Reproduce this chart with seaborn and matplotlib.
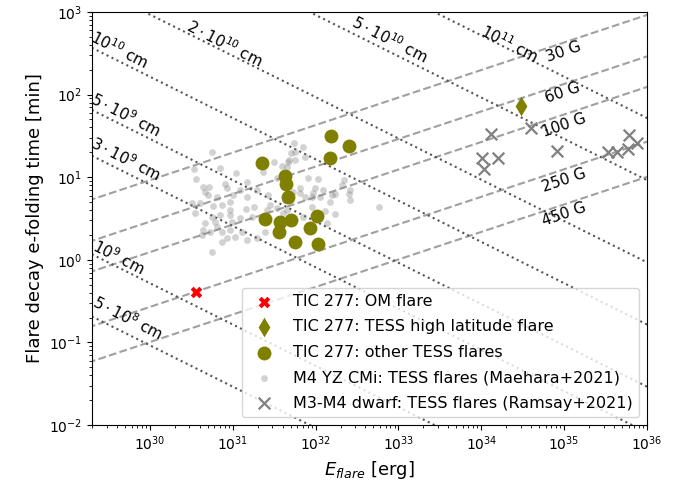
import numpy as np
import pandas as pd
import matplotlib
matplotlib.use("Agg")
import matplotlib.pyplot as plt
import seaborn as sns

# ---------------- data ----------------
# TIC 277: OM flare
om_E = [3.6e30]
om_tau = [0.41]
# TIC 277: TESS high latitude flare
hl_E = [3.0e34]
hl_tau = [72.8]
# TIC 277: other TESS flares
tess_E = [2.23e31, 1.53e32, 2.53e32, 1.48e32, 4.31e31, 4.36e31, 4.65e31, 2.45e31,
          3.72e31, 3.61e31, 5.05e31, 1.05e32, 8.55e31, 5.64e31, 1.08e32]
tess_tau = [14.7, 31.8, 24.0, 17.2, 10.3, 8.2, 5.7, 3.12,
            2.84, 2.19, 3.03, 3.42, 2.41, 1.66, 1.55]
# M4 YZ CMi (Maehara+2021)
mae_E = [5.66e30, 3.40e30, 7.02e30, 1.08e31, 3.60e30, 3.17e31, 3.90e31, 4.68e31, 2.34e31,
         1.47e31, 8.05e30, 4.41e30, 5.21e30, 4.62e30, 5.07e30, 8.45e30, 1.22e31, 1.01e31,
         1.95e31, 2.69e31, 3.39e31, 6.40e30, 1.47e31, 5.48e31, 7.10e31, 5.64e31, 5.00e31,
         4.81e31, 5.64e31, 4.55e31, 7.45e31, 8.17e31, 1.08e32, 2.20e32, 2.07e32, 2.60e32,
         9.84e31, 1.24e32, 9.38e31, 1.56e32, 8.97e31, 1.13e32, 7.45e31, 6.49e31, 5.38e31,
         3.19e30, 4.03e30, 5.82e30, 7.35e30, 9.27e30, 9.27e30, 9.27e30, 1.45e31, 1.80e31,
         2.81e31, 3.50e30, 5.57e30, 7.02e30, 6.11e30, 4.62e30, 6.40e30, 4.41e30, 5.31e30,
         7.35e30, 4.22e30, 9.71e30, 1.22e31, 1.28e31, 1.06e31, 8.45e30, 7.35e30, 1.47e31,
         1.95e31, 5.57e30, 2.45e31, 2.61e31, 1.69e31, 3.39e31, 9.27e30, 1.49e32, 2.55e32,
         2.60e32, 1.71e32, 8.97e31, 7.10e31, 1.30e32, 1.71e32, 1.36e32, 5.87e32, 4.07e31,
         4.48e31, 4.28e31, 6.49e31]
mae_tau = [20.0, 12.5, 12.8, 11.3, 9.4, 15.4, 13.7, 15.4, 11.7,
           8.8, 8.3, 7.7, 7.7, 6.7, 6.1, 7.3, 7.0, 6.1,
           7.0, 6.1, 9.7, 5.7, 5.7, 26.2, 23.0, 20.4, 19.5,
           16.1, 16.1, 13.4, 17.4, 9.7, 9.4, 9.2, 8.0, 7.0,
           7.3, 7.0, 6.4, 6.1, 5.7, 5.7, 5.7, 7.3, 6.7,
           4.83, 4.91, 4.48, 4.60, 5.05, 4.01, 3.48, 4.12, 4.40,
           4.60, 3.66, 3.32, 3.48, 2.89, 2.77, 2.52, 2.30, 2.19,
           2.19, 2.00, 2.89, 3.18, 2.19, 1.90, 1.82, 1.66, 1.74,
           1.82, 1.25, 2.19, 4.01, 3.32, 4.20, 2.30, 5.05, 6.26,
           5.30, 6.26, 4.32, 3.32, 3.93, 3.58, 2.77, 4.40, 3.66,
           4.01, 5.30, 6.4]
# M3-M4 dwarf (Ramsay+2021)
ram_E = [1.31e34, 3.95e34, 1.01e34, 1.60e34, 1.08e34, 8.13e34, 3.38e35, 4.35e35,
         5.98e35, 6.11e35, 7.57e35]
ram_tau = [33.0, 39.7, 16.9, 17.2, 12.5, 20.8, 20.2, 20.2, 21.9, 32.4, 26.3]

# scaling-law reference lines
B_values = [30, 60, 100, 250, 450]                      # G
B_labels = ["30 G", "60 G", "100 G", "250 G", "450 G"]
L_values = [5e8, 1e9, 3e9, 5e9, 1e10, 2e10, 5e10, 1e11]  # cm
L_labels = [r"$5\cdot10^{8}$ cm", r"$10^{9}$ cm", r"$3\cdot10^{9}$ cm", r"$5\cdot10^{9}$ cm",
            r"$10^{10}$ cm", r"$2\cdot10^{10}$ cm", r"$5\cdot10^{10}$ cm", r"$10^{11}$ cm"]
# label anchor positions (E, tau)
B_lab_E = [1.0e35, 9.6e34, 1.0e35, 1.0e35, 1.0e35]
B_lab_tau = [330, 104, 42.9, 9.25, 3.56]
L_lab_E = [5.33e29, 4.24e29, 5.1e29, 5.1e29, 4.36e29, 8.05e30, 7.9e32, 2.22e34]
L_lab_tau = [0.196, 1.07, 16.5, 56.6, 347, 420, 470, 410]

logA_B = -6.574   # tau = A * E^(1/3) * B^(-5/3)
logA_L = -7.783   # tau = A * L^(5/2) * E^(-1/2)

# ---------------- plot ----------------
fig = plt.figure(figsize=(6.81, 4.84), dpi=100)
ax = fig.add_axes([0.1351, 0.1219, 0.8149, 0.8533])
ax.set_xscale("log")
ax.set_yscale("log")

E_grid = np.logspace(29, 37, 200)
for B in B_values:
    tau = 10**logA_B * E_grid**(1/3) * B**(-5/3)
    sns.lineplot(x=E_grid, y=tau, ax=ax, color="#a0a0a0", lw=1.5, linestyle="--", zorder=1)
for L in L_values:
    tau = 10**logA_L * L**2.5 * E_grid**(-0.5)
    sns.lineplot(x=E_grid, y=tau, ax=ax, color="#555555", lw=1.5, linestyle=":", zorder=1)

for lab, e, t in zip(B_labels, B_lab_E, B_lab_tau):
    ax.text(e, t, lab, rotation=19, ha="center", va="center", fontsize=11, zorder=2)
for lab, e, t in zip(L_labels, L_lab_E, L_lab_tau):
    ax.text(e, t, lab, rotation=-27, ha="center", va="center", fontsize=11, zorder=2)

sns.scatterplot(x=om_E, y=om_tau, ax=ax, marker="X", color="red", s=70,
                linewidth=0, label="TIC 277: OM flare", zorder=5)
sns.scatterplot(x=hl_E, y=hl_tau, ax=ax, marker="d", color="olive", s=100,
                linewidth=0, label="TIC 277: TESS high latitude flare", zorder=5)
sns.scatterplot(x=tess_E, y=tess_tau, ax=ax, marker="o", color="olive", s=100,
                linewidth=0, label="TIC 277: other TESS flares", zorder=4)
sns.scatterplot(x=mae_E, y=mae_tau, ax=ax, marker="o", color="gray", s=24, alpha=0.35,
                linewidth=0, label="M4 YZ CMi: TESS flares (Maehara+2021)", zorder=3)
sns.scatterplot(x=ram_E, y=ram_tau, ax=ax, marker="x", color="gray", s=70,
                linewidth=1.6, label="M3-M4 dwarf: TESS flares (Ramsay+2021)", zorder=3)

ax.set_xlim(2e29, 1e36)
ax.set_ylim(1e-2, 1e3)
ax.set_xlabel(r"$E_{flare}$ [erg]", fontsize=13)
ax.set_ylabel("Flare decay e-folding time [min]", fontsize=13)
ax.legend(loc="lower right", fontsize=11.5, labelspacing=0.65)

fig.savefig("out.png", dpi=100)
